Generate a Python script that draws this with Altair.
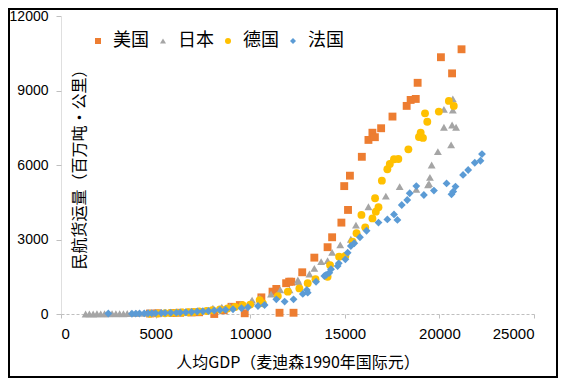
import altair as alt
import pandas as pd

# ---- data ----
us_x = [4700, 5100, 5900, 6300, 6900, 7300, 8100, 8600, 9010, 9450, 9710, 10590, 11180, 11380,
        11550, 11900, 12060, 12170, 12290, 12750, 13390, 14090, 14330, 14820, 15170, 14970, 15270,
        15900, 16250, 16460, 16590, 16920, 17520, 18270, 18480, 18750, 18850, 20670, 20080, 21170]
us_y = [20, 30, 40, 50, 60, 70, 0, 150, 290, 360, 30, 670, 900, 1010,
        50, 1240, 1300, 1300, 50, 1680, 2270, 2690, 3090, 3680, 4190, 5150, 5570,
        6330, 7010, 7300, 7120, 7480, 7950, 8380, 8620, 8660, 9310, 9690, 10340, 10660]

jp_x = [1300, 1500, 1700, 1900, 2100, 2300, 2500, 2700, 2900, 3100, 3300, 3500, 3700,
        4000, 4400, 4800, 5300, 5700, 6100, 6500, 6900, 7300, 7700, 8030, 8500, 8920,
        9500, 10060, 10100, 10500, 11100, 11590, 12080, 12520, 12550, 13130, 13390, 13750,
        14090, 14330, 14760, 15320, 15590, 16250, 17170, 17900, 18780, 19400, 19450, 19500,
        19590, 19920, 20620, 20240, 20670, 20880, 20240, 20710, 20710]
jp_y = [0, 5, 0, 10, 5, 10, 5, 15, 10, 15, 10, 20, 15,
        20, 30, 35, 40, 50, 60, 70, 90, 110, 140, 240, 280, 320,
        400, 500, 560, 650, 800, 970, 970, 1370, 1300, 1610, 1840, 2110,
        2150, 2480, 2780, 3010, 3580, 4320, 4750, 5130, 5020, 5200, 5250, 5500,
        6000, 6540, 6810, 7520, 7610, 7520, 8240, 8210, 8660]

de_x = [4700, 5100, 5500, 5800, 6100, 6400, 6700, 7000, 7300, 7700, 8000, 8400, 8800, 9200,
        9600, 10000, 10500, 10670, 11460, 11990, 12600, 13040, 13450, 14090, 14220, 14700,
        15030, 15410, 15620, 15880, 16080, 16460, 16640, 16780, 16600, 16960, 17250, 17380,
        17600, 17830, 18360, 18920, 19010, 19130, 19360, 19240, 19970, 20500, 20760]
de_y = [10, 20, 30, 40, 50, 60, 70, 80, 100, 120, 150, 180, 220, 280,
        350, 380, 560, 430, 720, 900, 1030, 1240, 1400, 1500, 1970, 2310,
        2340, 2910, 3250, 3990, 3490, 3850, 4120, 4300, 4660, 5370, 5830, 6040,
        6230, 6240, 6630, 7130, 7300, 7090, 7740, 8080, 8150, 8580, 8380]

fr_x = [2500, 3750, 3950, 4150, 4400, 4600, 4800, 5000, 5300, 5500, 5800, 6100, 6300, 6600,
        6900, 7200, 7500, 7800, 8100, 8400, 8700, 9090, 9540, 9880, 10410, 10760, 11380,
        11820, 12290, 12780, 12990, 13040, 13480, 13920, 14010, 14180, 14270, 14620, 14680,
        15030, 15150, 15320, 15500, 15800, 16150, 16780, 17250, 17780, 17600, 18010, 18300,
        18430, 18780, 19180, 19710, 20380, 20640, 20730, 20850, 21250, 21520, 21870, 22170, 22250]
fr_y = [20, 10, 15, 20, 25, 30, 30, 35, 40, 45, 50, 55, 60, 70,
        80, 100, 110, 120, 140, 160, 170, 190, 230, 270, 320, 360, 590,
        500, 590, 810, 970, 860, 1300, 1530, 1570, 1660, 1800, 1930, 2040,
        2200, 2470, 2740, 2850, 3090, 3350, 3680, 3810, 3790, 4010, 4390, 4590,
        4860, 5150, 4790, 4970, 5260, 4820, 4930, 5130, 5600, 5800, 6090, 6170, 6440]

series = ["美国", "日本", "德国", "法国"]
colors = ["#ED7D31", "#A5A5A5", "#FFC000", "#5B9BD5"]
shapes = ["square", "triangle-up", "circle", "diamond"]

rows = []
for name, xs, ys in [("美国", us_x, us_y), ("日本", jp_x, jp_y),
                     ("德国", de_x, de_y), ("法国", fr_x, fr_y)]:
    for a, b in zip(xs, ys):
        rows.append({"gdp": a, "cargo": b, "country": name})
df = pd.DataFrame(rows)
df["order"] = range(len(df))

W, H = 473, 298
CJK = "Noto Sans CJK SC"
NUM = "Liberation Sans"

points = alt.Chart(df).mark_point(filled=True, opacity=1, size=62).encode(
    x=alt.X("gdp:Q", scale=alt.Scale(domain=[0, 25000], nice=False),
            axis=alt.Axis(values=[0, 5000, 10000, 15000, 20000, 25000], grid=False,
                          title="人均GDP（麦迪森1990年国际元）", format="d",
                          domainColor="#BFBFBF", domainDash=[3, 2], tickColor="#BFBFBF",
                          tickSize=4, labelPadding=8, labelFont=NUM, labelFontSize=15,
                          labelColor="#000000", titleFont=CJK, titleFontSize=16,
                          titleFontWeight="normal", titleColor="#000000",
                          titleY=48, titleBaseline="middle")),
    y=alt.Y("cargo:Q", scale=alt.Scale(domain=[0, 12000], nice=False),
            axis=alt.Axis(values=[0, 3000, 6000, 9000, 12000], grid=False,
                          title="民航货运量（百万吨·公里）", format="d",
                          domainColor="#BFBFBF", domainDash=[1, 1], tickColor="#BFBFBF",
                          tickSize=5, labelPadding=8, labelFont=NUM, labelFontSize=14,
                          labelColor="#000000", titleFont=CJK, titleFontSize=16,
                          titleFontWeight="normal", titleColor="#000000",
                          titleX=18, titleY=H / 2, titleBaseline="middle", titleAngle=270)),
    color=alt.Color("country:N", scale=alt.Scale(domain=series, range=colors),
                    legend=alt.Legend(title=None, orient="none", direction="horizontal",
                                      legendX=28, legendY=16, symbolSize=36,
                                      labelFont=CJK, labelFontSize=18, labelColor="#000000",
                                      labelOffset=6, columnPadding=5,
                                      symbolStrokeWidth=0)),
    shape=alt.Shape("country:N", scale=alt.Scale(domain=series, range=shapes)),
    order=alt.Order("order:Q"),
)

frame = alt.Chart(pd.DataFrame({"k": [0]})).mark_rect(
    fill=None, stroke="#000000", strokeWidth=2, clip=False
).encode(x=alt.value(-52), x2=alt.value(W + 23), y=alt.value(-7), y2=alt.value(H + 63))

chart = alt.layer(frame, points).properties(
    width=W, height=H,
    autosize=alt.AutoSizeParams(type="none"),
    padding={"left": 53, "top": 8, "right": 24, "bottom": 64},
).configure_view(stroke=None)

chart.save("out.html", embed_options={"renderer": "svg", "actions": False})
